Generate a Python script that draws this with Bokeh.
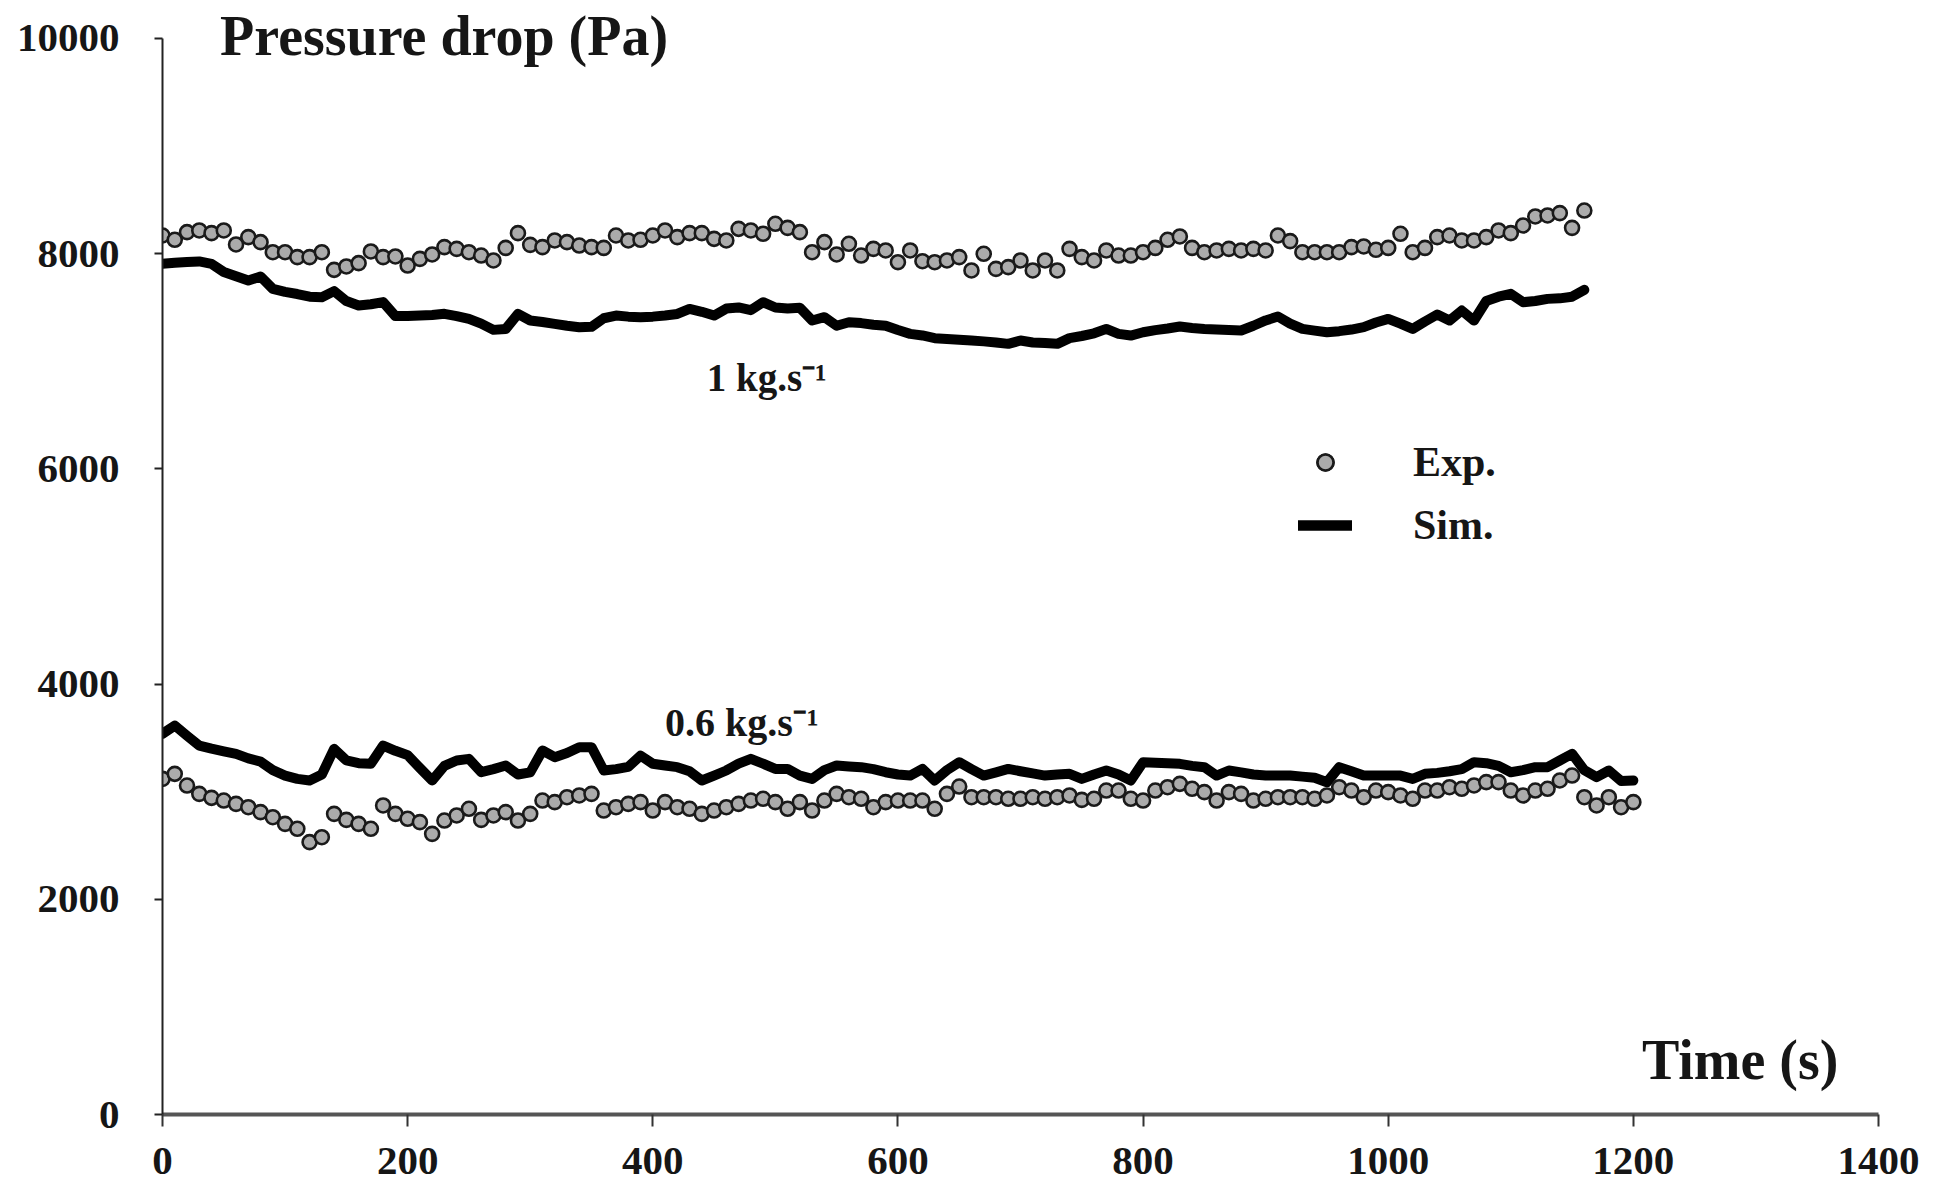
from bokeh.plotting import figure
from bokeh.models import Range1d, Legend, LegendItem, FixedTicker, Label
from bokeh.embed import file_html
from bokeh.resources import INLINE

# ---------------- data ----------------
step_s = 10  # sampling interval of the records (s)

exp_1kg = [
    8169, 8129, 8200, 8216, 8191, 8216, 8086, 8154, 8107, 8014, 8014, 7968, 7968, 8014,
    7850, 7881, 7912, 8021, 7968, 7974, 7890, 7952, 7993, 8061, 8045, 8014, 7983, 7937,
    8054, 8191, 8082, 8061, 8123, 8107, 8076, 8061, 8054, 8169, 8123, 8129, 8169,
    8216, 8154, 8191, 8191, 8138, 8123, 8231, 8216, 8185, 8278, 8240, 8200, 8014, 8107,
    7993, 8092, 7983, 8045, 8030, 7921, 8030, 7930, 7921, 7937, 7968, 7844, 7999, 7859,
    7875, 7937, 7844, 7937, 7844, 8045, 7968, 7937, 8030, 7983, 7983,
    8014, 8054, 8129, 8160, 8054, 8014, 8030, 8045, 8030, 8045, 8030, 8169, 8117, 8014,
    8014, 8014, 8014, 8061, 8067, 8036, 8054, 8185, 8014, 8054, 8154, 8169, 8123, 8123,
    8154, 8216, 8191, 8262, 8346, 8355, 8377, 8240, 8401,
]
sim_1kg = [
    7906, 7915, 7922, 7928, 7906, 7830, 7790, 7750, 7788, 7673, 7645, 7625, 7600, 7596,
    7652, 7560, 7519, 7530, 7550, 7420, 7422, 7425, 7430, 7441, 7420, 7394, 7350, 7292,
    7300, 7441, 7379, 7365, 7348, 7330, 7317, 7320, 7400, 7425, 7415, 7410, 7415,
    7425, 7440, 7487, 7460, 7425, 7490, 7500, 7475, 7549, 7500, 7490, 7497, 7379, 7410,
    7330, 7363, 7355, 7340, 7330, 7290, 7255, 7240, 7215, 7208, 7200, 7193, 7185, 7175,
    7162, 7193, 7175, 7170, 7162, 7215, 7235, 7260, 7301, 7255, 7239,
    7270, 7290, 7305, 7323, 7310, 7301, 7295, 7290, 7286, 7330, 7380, 7416, 7350, 7301,
    7285, 7270, 7280, 7295, 7317, 7360, 7394, 7350, 7301, 7370, 7435, 7379, 7472, 7379,
    7560, 7600, 7627, 7549, 7560, 7580, 7585, 7600, 7664,
]
exp_06kg = [
    3119, 3166, 3057, 2980, 2943, 2918, 2887, 2856, 2810, 2763, 2701, 2655, 2531, 2577,
    2794, 2738, 2701, 2655, 2872, 2794, 2748, 2717, 2608, 2732, 2779, 2841, 2738, 2779,
    2810, 2732, 2794, 2918, 2903, 2949, 2965, 2980, 2825, 2856, 2887, 2903, 2825, 2903,
    2856, 2841, 2794, 2825, 2856, 2887, 2918, 2934, 2903, 2841, 2903, 2825, 2918, 2980,
    2949, 2934, 2856, 2903, 2918,
    2918, 2918, 2841, 2980, 3048, 2949, 2949, 2949, 2934, 2934, 2949, 2934, 2949, 2965,
    2924, 2934, 3011, 3011, 2934, 2918, 3011, 3042, 3073, 3027, 2996, 2918, 2996, 2980,
    2918, 2934, 2949, 2949, 2949, 2934, 2965, 3042, 3011, 2949, 3011, 2996, 2965, 2934,
    3011, 3011, 3042, 3027, 3058, 3089, 3089, 3011, 2965, 3011, 3027, 3104, 3150, 2949,
    2872, 2949, 2856, 2903,
]
sim_06kg = [
    3538, 3615, 3520, 3429, 3400, 3375, 3352, 3310, 3280, 3200, 3150, 3119, 3104, 3160,
    3398, 3290, 3265, 3259, 3429, 3380, 3340, 3220, 3104, 3240, 3290, 3305, 3181, 3210,
    3243, 3160, 3180, 3383, 3321, 3360, 3414, 3414, 3197, 3210, 3230, 3336, 3260, 3243,
    3228, 3190, 3104, 3150, 3197, 3260, 3305, 3260, 3212, 3212, 3150, 3119, 3200, 3243,
    3235, 3228, 3210, 3181, 3160,
    3150, 3212, 3104, 3200, 3274, 3210, 3150, 3180, 3212, 3190, 3170, 3150, 3160, 3166,
    3119, 3160, 3197, 3160, 3104, 3274, 3270, 3265, 3259, 3240, 3228, 3150, 3197, 3180,
    3160, 3150, 3150, 3150, 3140, 3130, 3088, 3228, 3190, 3150, 3150, 3150, 3150, 3119,
    3166, 3175, 3190, 3210, 3274, 3265, 3240, 3181, 3200, 3228, 3228, 3290, 3352, 3200,
    3135, 3197, 3100, 3104,
]

t_1kg = [step_s * i for i in range(len(exp_1kg))]
t_1kg_sim = [step_s * i for i in range(len(sim_1kg))]
t_06kg = [step_s * i for i in range(len(exp_06kg))]
t_06kg_sim = [step_s * i for i in range(len(sim_06kg))]

x_ticks = [0, 200, 400, 600, 800, 1000, 1200, 1400]
y_ticks = [0, 2000, 4000, 6000, 8000, 10000]

# ---------------- figure ----------------
FONT = "Liberation Serif"
INK = "#161616"

p = figure(width=1935, height=1192, output_backend="svg", toolbar_location=None,
           x_range=Range1d(0, 1400), y_range=Range1d(0, 10353),
           min_border_left=162, min_border_right=57, min_border_top=0,
           min_border_bottom=78)
p.outline_line_color = None
p.grid.visible = False
p.background_fill_color = "white"
p.border_fill_color = "white"

# axes
p.xaxis.ticker = FixedTicker(ticks=x_ticks)
p.yaxis.ticker = FixedTicker(ticks=y_ticks)
p.yaxis.bounds = (0, 10000)
for ax in (p.xaxis, p.yaxis):
    ax.minor_tick_line_color = None
    ax.major_tick_in = 0
    ax.major_label_text_font = FONT
    ax.major_label_text_font_style = "bold"
    ax.major_label_text_font_size = "41px"
    ax.major_label_text_color = INK
p.xaxis.axis_line_color = "#555555"
p.xaxis.axis_line_width = 4
p.xaxis.major_tick_out = 12
p.xaxis.major_tick_line_width = 2
p.xaxis.major_tick_line_color = "#333333"
p.xaxis.major_label_standoff = 21
p.yaxis.axis_line_color = "#222222"
p.yaxis.axis_line_width = 2
p.yaxis.major_tick_out = 8
p.yaxis.major_tick_line_width = 2
p.yaxis.major_tick_line_color = "#222222"
p.yaxis.major_label_standoff = 35

# series
line_kw = dict(line_color="black", line_width=10, line_join="round", line_cap="round")
sim1 = p.line(t_1kg_sim, sim_1kg, **line_kw)
sim2 = p.line(t_06kg_sim, sim_06kg, **line_kw)
mk_kw = dict(marker="circle", size=14, fill_color="#ababab", line_color="#1a1a1a", line_width=2.6)
exp1 = p.scatter(t_1kg, exp_1kg, **mk_kw)
exp2 = p.scatter(t_06kg, exp_06kg, **mk_kw)

# texts
def add_label(x, y, text, size):
    p.add_layout(Label(x=x, y=y, text=text, text_font=FONT, text_font_style="bold",
                       text_font_size=size, text_color=INK, text_align="left",
                       text_baseline="alphabetic"))

add_label(47, 10020, "Pressure drop (Pa)", "56px")
add_label(1207, 511, "Time (s)", "56px")
add_label(444, 6850, "1 kg.s\u207b\u00b9", "39px")
add_label(410, 3642, "0.6 kg.s\u207b\u00b9", "40px")

legend = Legend(items=[LegendItem(label="Exp.", renderers=[exp1, exp2]),
                       LegendItem(label="Sim.", renderers=[sim1, sim2])],
                location=(1136, 565))
legend.border_line_color = None
legend.background_fill_alpha = 0
legend.label_text_font = FONT
legend.label_text_font_style = "bold"
legend.label_text_font_size = "42px"
legend.label_text_color = INK
legend.glyph_width = 54
legend.glyph_height = 40
legend.label_height = 40
legend.label_standoff = 61
legend.spacing = 15
legend.padding = 10
legend.margin = 0
p.add_layout(legend)

open("out.html", "w").write(file_html(p, INLINE))
